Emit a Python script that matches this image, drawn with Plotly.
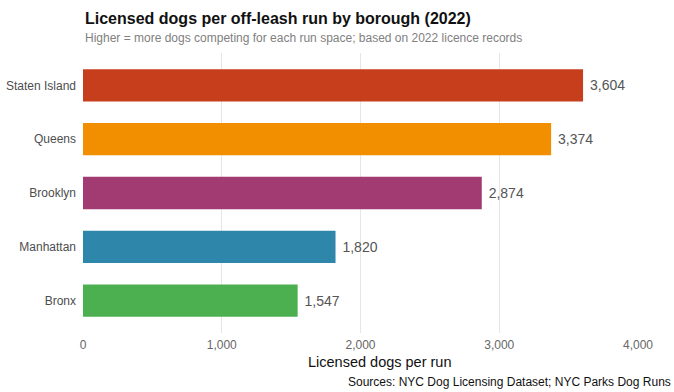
import plotly.graph_objects as go

# Licensed dogs per off-leash dog run, 2022
boroughs = ["Bronx", "Manhattan", "Brooklyn", "Queens", "Staten Island"]
dogs_per_run = [1547, 1820, 2874, 3374, 3604]
bar_colors = ["#4CAF50", "#2E86AB", "#A23B72", "#F18F01", "#C73E1D"]
x_ticks = [0, 1000, 2000, 3000, 4000]
x_tick_labels = ["0", "1,000", "2,000", "3,000", "4,000"]

FONT = "Liberation Sans, Arial, sans-serif"

fig = go.Figure(
    go.Bar(
        x=dogs_per_run,
        y=boroughs,
        orientation="h",
        width=0.6,
        marker=dict(color=bar_colors, line=dict(width=0)),
        # non-breaking spaces push the value labels a little off the bar ends
        text=["\u00a0" + f"{v:,}" for v in dogs_per_run],
        textposition="outside",
        textfont=dict(family=FONT, size=14, color="#555555"),
        cliponaxis=False,
        hoverinfo="skip",
    )
)

fig.update_layout(
    width=674,
    height=392,
    margin=dict(l=83, r=36, t=53, b=59),
    paper_bgcolor="white",
    plot_bgcolor="white",
    showlegend=False,
    font=dict(family=FONT, color="#4d4d4d"),
)

fig.update_xaxes(
    range=[0, 4000],
    tickvals=x_ticks,
    ticktext=x_tick_labels,
    tickfont=dict(size=12, color="#666666"),
    showgrid=True,
    gridcolor="#e6e6e6",
    gridwidth=1,
    zeroline=False,
    showline=False,
    ticks="",
    ticklen=0,
    ticklabelstandoff=3,
    automargin=False,
)
fig.update_yaxes(
    categoryorder="array",
    categoryarray=boroughs,
    range=[-0.6, 4.6],
    tickfont=dict(size=12, color="#4d4d4d"),
    showgrid=False,
    zeroline=False,
    showline=False,
    ticks="",
    ticklabelstandoff=6,
    automargin=False,
)

fig.add_annotation(
    text="<b>Licensed dogs per off-leash run by borough (2022)</b>",
    xref="paper", yref="paper", x=0, y=1,
    xanchor="left", yanchor="middle",
    yshift=35,
    showarrow=False,
    font=dict(family=FONT, size=16, color="#111111"),
)
fig.add_annotation(
    text="Higher = more dogs competing for each run space; based on 2022 licence records",
    xref="paper", yref="paper", x=0, y=1,
    xanchor="left", yanchor="middle",
    yshift=15,
    showarrow=False,
    font=dict(family=FONT, size=12, color="#808080"),
)
fig.add_annotation(
    text="Licensed dogs per run",
    xref="paper", yref="paper", x=0.5, y=0,
    xanchor="center", yanchor="middle",
    xshift=19, yshift=-29,
    showarrow=False,
    font=dict(family=FONT, size=14.5, color="#111111"),
)
fig.add_annotation(
    text="Sources: NYC Dog Licensing Dataset; NYC Parks Dog Runs",
    xref="paper", yref="paper", x=1, y=0,
    xanchor="right", yanchor="middle",
    xshift=35, yshift=-49,
    showarrow=False,
    font=dict(family=FONT, size=12, color="#111111"),
)

fig.write_html("out.html")
